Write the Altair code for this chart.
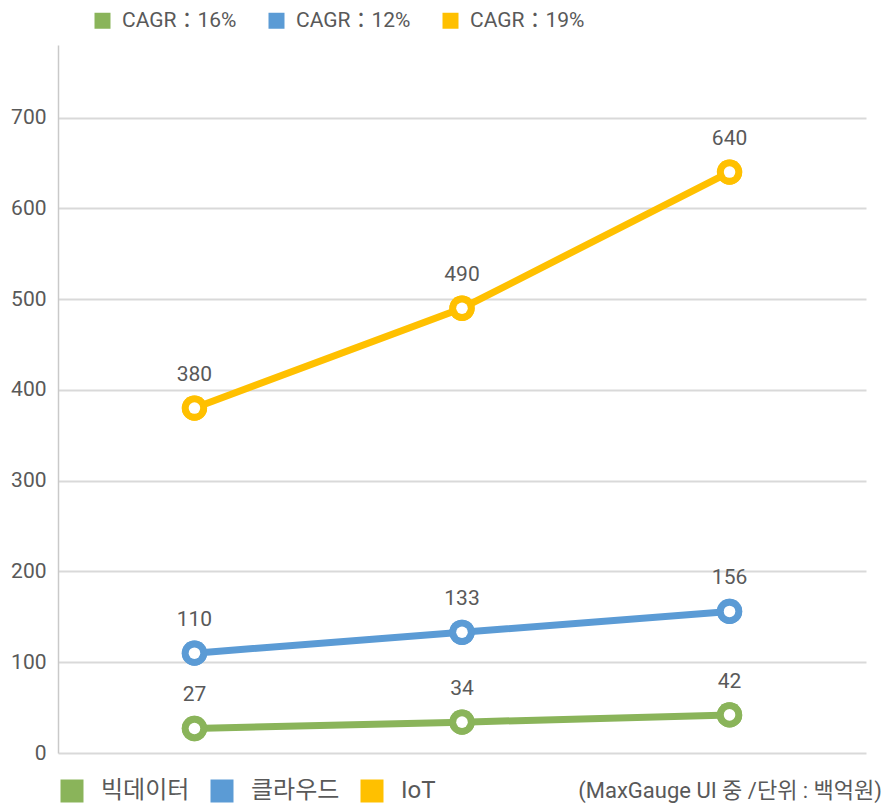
import altair as alt
import pandas as pd

# ---- data ----
periods = ["P1", "P2", "P3"]
series_names = ["빅데이터", "클라우드", "IoT"]
cagr_labels = ["CAGR：16%", "CAGR：12%", "CAGR：19%"]
bigdata = [27, 34, 42]
cloud = [110, 133, 156]
iot = [380, 490, 640]
y_ticks = [0, 100, 200, 300, 400, 500, 600, 700]
note = ["(MaxGauge UI 중 /단위 : 백억원)"]

colors = ["#8AB45A", "#5B9BD5", "#FFC000"]

rows = []
for name, cagr, vals in zip(series_names, cagr_labels, [bigdata, cloud, iot]):
    for i, (p, v) in enumerate(zip(periods, vals)):
        rows.append({"period": p, "order": i, "series": name, "cagr": cagr, "value": v})
df = pd.DataFrame(rows)

FONT = "Roboto, Noto Sans CJK KR, sans-serif"
TXT = "#595959"

x = alt.X("period:O", sort=periods, axis=None,
          scale=alt.Scale(type="point", padding=0.51))
y = alt.Y("value:Q", title=None,
          scale=alt.Scale(domain=[0, 780], nice=False, zero=True),
          axis=alt.Axis(values=y_ticks, grid=True, gridColor="#d9d9d9", gridWidth=2,
                        domainColor="#c9c9c9", domainWidth=1.5, ticks=False,
                        labelFontSize=21, labelColor=TXT, labelPadding=12,
                        labelFont=FONT))

base = alt.Chart(df)

lines = base.mark_line(strokeWidth=7).encode(
    x=x, y=y,
    color=alt.Color("series:N", scale=alt.Scale(domain=series_names, range=colors), legend=None),
    order="order:Q",
)

outer_bottom = base.mark_circle(size=640, opacity=1).encode(
    x=x, y=y,
    fill=alt.Fill("series:N", scale=alt.Scale(domain=series_names, range=colors),
                  legend=alt.Legend(title=None, orient="none", legendX=2, legendY=734,
                                    direction="horizontal", symbolType="square",
                                    symbolSize=529, symbolStrokeWidth=0,
                                    labelFontSize=24, labelColor=TXT, labelFont=FONT,
                                    labelOffset=17, columnPadding=20, padding=0)),
)

outer_top = base.mark_circle(size=640, opacity=1).encode(
    x=x, y=y,
    fill=alt.Fill("cagr:N", scale=alt.Scale(domain=cagr_labels, range=colors),
                  legend=alt.Legend(title=None, orient="none", legendX=34, legendY=-35,
                                    direction="horizontal", symbolType="square",
                                    symbolSize=256, symbolStrokeWidth=0,
                                    labelFontSize=21, labelColor=TXT, labelFont=FONT,
                                    labelOffset=9, columnPadding=29, padding=0)),
)

inner = base.mark_circle(size=133, opacity=1, fill="white").encode(x=x, y=y)

labels = base.mark_text(dy=-33, fontSize=21, color=TXT, font=FONT, baseline="middle").encode(
    x=x, y=y, text="value:Q"
)

note_layer = alt.Chart(pd.DataFrame({"t": note})).mark_text(
    align="right", baseline="middle", fontSize=22, color=TXT, font=FONT
).encode(x=alt.value(824), y=alt.value(746), text="t:N")

chart = alt.layer(lines, outer_bottom, outer_top, inner, labels, note_layer).resolve_scale(
    fill="independent"
).properties(
    width=808, height=708,
    autosize=alt.AutoSizeParams(type="none"),
    padding={"left": 50, "top": 37, "right": 16, "bottom": 51},
).configure(font=FONT).configure_view(strokeWidth=0, stroke="transparent")

chart.save("out.html", embed_options={"renderer": "svg", "actions": False})
